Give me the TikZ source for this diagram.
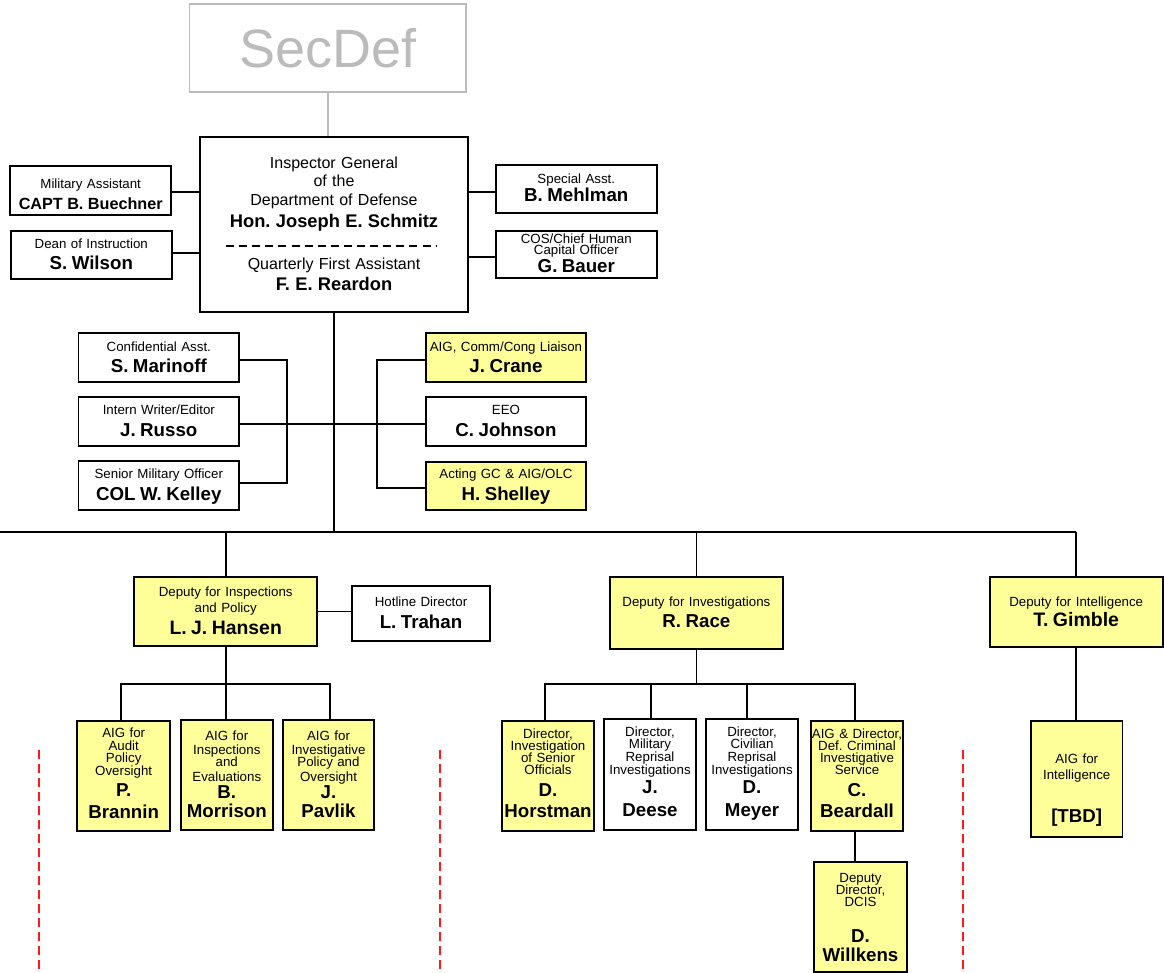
\documentclass[tikz,border=0pt]{standalone}
\usepackage{fontspec}
\setmainfont{Liberation Sans}
\usetikzlibrary{calc}
\parindent=0pt
\definecolor{yfill}{HTML}{FFFF99}
\definecolor{sgray}{HTML}{BBBBBB}
\definecolor{dred}{HTML}{FF1A1A}
\newcommand{\ts}[1]{\rule{0pt}{#1pt}}
\newcommand{\bs}[1]{\rule[-#1pt]{0pt}{#1pt}}
\newcommand{\nm}{\fontsize{18.7}{0}\selectfont\bfseries}
\newcommand{\smf}{\fontsize{13.3}{0}\selectfont}
\newcommand{\igf}{\fontsize{16}{0}\selectfont}
\tikzset{
  box/.style={draw=black, line width=1.8pt, inner sep=0pt, align=center, fill=white, font=\smf},
  yel/.style={fill=yfill},
  conn/.style={line width=1.8pt, draw=black},
  reddash/.style={draw=dred, line width=2pt, dash pattern=on 9pt off 5pt},
}
\begin{document}
\frenchspacing
\lineskiplimit=-100pt
\normallineskiplimit=-100pt
\begin{tikzpicture}[x=1pt,y=-1pt]
\useasboundingbox (0,0) rectangle (1164,973);

% SecDef
\node[draw=sgray, line width=1.8pt, minimum width=276.7, minimum height=87.4, inner sep=0pt,
      text=sgray, font=\fontsize{54}{60}\selectfont] (secdef) at (327.8,48) {SecDef};

% Inspector General
\node[box, minimum width=267.5, minimum height=175, text width=262, font=\igf] (ig) at (334,224.2)
 {\ts{12}Inspector General\\[18.4pt]of the\\[19pt]Department of Defense\\[21.6pt]
  {\bfseries\fontsize{18.3}{0}\selectfont Hon. Joseph E. Schmitz}\\[42pt]
  Quarterly First Assistant\\[21.7pt]{\bfseries\fontsize{18.3}{0}\selectfont F. E. Reardon\bs{1.1}}};
\coordinate (dashL) at ($(ig.center)+(-108,21.5)$);
\coordinate (dashR) at ($(ig.center)+(102,21.5)$);
\draw[line width=2pt, dash pattern=on 8pt off 5.1pt] (dashL) -- (dashR);

\draw[draw=sgray, line width=1.8pt] (secdef.south) -- (secdef.south |- ig.north);

% top side boxes
\node[box, minimum width=160.8, minimum height=49, text width=158] (mil) at (90.7,190.5)
 {\ts{16.6}Military Assistant\\[21pt]{\bfseries\fontsize{16.2}{0}\selectfont CAPT B. Buechner}};
\node[box, minimum width=161, minimum height=48.3, text width=158] (dean) at (91.3,255.2)
 {\ts{12}Dean of Instruction\\[20.3pt]{\nm S. Wilson\bs{4.1}}};
\node[box, minimum width=160.7, minimum height=47.7, text width=158] (spec) at (576.3,188.9)
 {\ts{12}Special Asst.\\[17.7pt]{\nm B. Mehlman\bs{4.1}}};
\node[box, minimum width=160.7, minimum height=47, text width=158] (cos) at (576.3,254.2)
 {\ts{12}COS/Chief Human\\[11pt]Capital Officer\\[18pt]{\nm G. Bauer\bs{4.8}}};

\coordinate (milC) at ($(mil.east)+(0,1.8)$);
\coordinate (deanC) at ($(dean.east)+(0,-1.9)$);
\coordinate (specC) at ($(spec.west)+(0,2.8)$);
\coordinate (cosC) at ($(cos.west)+(0,2.5)$);
\draw[conn] (milC) -- (milC -| ig.west);
\draw[conn] (deanC) -- (deanC -| ig.west);
\draw[conn] (specC) -- (specC -| ig.east);
\draw[conn] (cosC) -- (cosC -| ig.east);

% middle boxes
\node[box, minimum width=160.7, minimum height=49, text width=158] (mar) at (158.8,357.8)
 {\ts{12}Confidential Asst.\\[21pt]{\nm S. Marinoff\bs{3.2}}};
\node[box, minimum width=160.7, minimum height=48.4, text width=158] (rus) at (158.8,421.5)
 {\ts{12}Intern Writer/Editor\\[21.7pt]{\nm J. Russo\bs{4.7}}};
\node[box, minimum width=160.7, minimum height=49, text width=158] (kel) at (158.8,485.5)
 {\ts{12}Senior Military Officer\\[21.7pt]{\nm COL W. Kelley\bs{4.7}}};
\node[box, yel, minimum width=160.7, minimum height=49, text width=158] (crane) at (506,357.8)
 {\ts{12}AIG, Comm/Cong Liaison\\[21pt]{\nm J. Crane\bs{3.2}}};
\node[box, minimum width=160.7, minimum height=49, text width=158] (john) at (506,421.2)
 {\ts{12}EEO\\[21.7pt]{\nm C. Johnson\bs{4.1}}};
\node[box, yel, minimum width=160.7, minimum height=48.3, text width=158] (shel) at (506,485.8)
 {\ts{12}Acting GC \& AIG/OLC\\[21.7pt]{\nm H. Shelley\bs{5.3}}};

\coordinate (marC) at ($(mar.east)+(0,2.2)$);
\coordinate (kelC) at ($(kel.east)+(0,-2.8)$);
\coordinate (craC) at ($(crane.west)+(0,2.2)$);
\coordinate (sheC) at ($(shel.west)+(0,2.2)$);
\coordinate (rusC) at ($(rus.east)+(0,2.5)$);
\coordinate (lbr) at ($(marC)+(47.2,0)$);
\coordinate (rbr) at ($(craC)+(-47.5,0)$);
\draw[conn] (marC) -- (lbr) |- (kelC);
\draw[conn] (craC) -- (rbr) |- (sheC);
\draw[conn] (rusC) -- (rusC -| john.west);

% main bus
\coordinate (busL) at (0,532);
\coordinate (busR) at (1076.2,532);
\draw[conn] (ig.south) -- (ig.south |- busL);
\draw[conn] (busL) -- (busR);

% deputies
\node[box, yel, minimum width=183, minimum height=69, text width=180] (hansen) at (225.7,611.5)
 {\ts{12}Deputy for Inspections\\[15.6pt]and Policy\\[21.7pt]{\bfseries\fontsize{19.4}{0}\selectfont L. J. Hansen\bs{4.3}}};
\node[box, minimum width=138.3, minimum height=54.7, text width=135] (trahan) at (421,613.3)
 {\ts{12}Hotline Director\\[22.3pt]{\nm L. Trahan\bs{3}}};
\node[box, yel, minimum width=173.6, minimum height=71.4, text width=170] (race) at (696.4,613)
 {\ts{12}Deputy for Investigations\\[21.3pt]{\nm R. Race\bs{4.7}}};
\node[box, yel, minimum width=173.2, minimum height=70.6, text width=170] (gimble) at (1076.2,612)
 {\ts{12}Deputy for Intelligence\\[20.7pt]{\bfseries\fontsize{19.5}{0}\selectfont T. Gimble\bs{3.3}}};

\draw[conn] (hansen.north |- busL) -- (hansen.north);
\draw[conn] (race.north |- busL) -- (race.north);
\draw[conn] (busR) -- (gimble.north);
\draw[conn] (hansen.east) -- (hansen.east -| trahan.west);

% inspections AIGs
\node[box, yel, minimum width=92.7, minimum height=110, text width=91] (brannin) at (123.7,776)
 {\ts{12}AIG for\\[12.7pt]Audit\\[12.7pt]Policy\\[12.3pt]Oversight\\[21.7pt]{\nm P.}\\[21.6pt]{\nm Brannin\bs{8.4}}};
\node[box, yel, minimum width=91.7, minimum height=110.3, text width=91] (morrison) at (226.8,775.2)
 {\ts{12}AIG for\\[13.6pt]Inspections\\[12.4pt]and\\[14.3pt]Evaluations\\[17.3pt]{\nm B.}\\[19.4pt]{\nm Morrison\bs{4}}};
\node[box, yel, minimum width=91.7, minimum height=110.3, text width=91] (pavlik) at (328.5,775.2)
 {\ts{12}AIG for\\[13.6pt]Investigative\\[12.4pt]Policy and\\[14.3pt]Oversight\\[17.3pt]{\nm J.}\\[19.4pt]{\nm Pavlik\bs{4}}};

\coordinate (hbus) at ($(hansen.south)+(0,37)$);
\coordinate (branT) at ($(brannin.north)+(-2.7,0)$);
\coordinate (pavT) at ($(pavlik.north)+(1.5,0)$);
\draw[conn] (hansen.south) -- (hansen.south |- morrison.north);
\draw[conn] (branT) |- (hbus) -| (pavT);

% investigations
\node[box, yel, minimum width=92, minimum height=110.3, text width=91] (horst) at (548,776.2)
 {\ts{12}Director,\\[11.7pt]Investigation\\[12.7pt]of Senior\\[12pt]Officials\\[21.3pt]{\nm D.}\\[21.7pt]{\nm Horstman\bs{8.4}}};
\node[box, minimum width=92, minimum height=110.4, text width=91] (deese) at (650,774.5)
 {\ts{12}Director,\\[12pt]Military\\[13pt]Reprisal\\[12.6pt]Investigations\\[19pt]{\nm J.}\\[23.4pt]{\nm Deese\bs{7.6}}};
\node[box, minimum width=92, minimum height=110.4, text width=91] (meyer) at (752,774.5)
 {\ts{12}Director,\\[12pt]Civilian\\[13pt]Reprisal\\[12.6pt]Investigations\\[19pt]{\nm D.}\\[23.4pt]{\nm Meyer\bs{7.6}}};
\node[box, yel, minimum width=92, minimum height=110.3, text width=91] (beard) at (857,776.2)
 {\ts{12}AIG \& Director,\\[11.7pt]Def. Criminal\\[12.7pt]Investigative\\[12pt]Service\\[21.3pt]{\nm C.}\\[21.7pt]{\nm Beardall\bs{8.4}}};
\node[box, yel, minimum width=93, minimum height=109.7, text width=91] (willk) at (860.5,916.8)
 {\ts{12}Deputy\\[11.7pt]Director,\\[12pt]DCIS\\[36.3pt]{\nm D.}\\[19.4pt]{\nm Willkens\bs{1.6}}};

\coordinate (rbus) at ($(race.south)+(0,34)$);
\coordinate (horT) at ($(horst.north)+(-3,0)$);
\coordinate (deeT) at ($(deese.north)+(1,0)$);
\coordinate (meyT) at ($(meyer.north)+(-5,0)$);
\coordinate (beaT) at ($(beard.north)+(-2,0)$);
\coordinate (beaB) at ($(beard.south)+(-2,0)$);
\draw[conn] (race.south) -- (rbus);
\draw[conn] (horT) |- (rbus) -| (beaT);
\draw[conn] (deeT) -- (deeT |- rbus);
\draw[conn] (meyT) -- (meyT |- rbus);
\draw[conn] (beaB) -- (beaB |- willk.north);

% intelligence
\node[box, yel, minimum width=91.7, minimum height=115.7, text width=90] (tbd) at (1076.7,778.8)
 {\ts{32}AIG for\\[15.7pt]Intelligence\\[43.3pt]{\nm [TBD]\bs{4}}};
\draw[conn] (gimble.south) -- (gimble.south |- tbd.north);

% red dashed separators
\coordinate (r1t) at (39,750);   \coordinate (r1b) at (39,973);
\coordinate (r2t) at (440,750);  \coordinate (r2b) at (440,973);
\coordinate (r3t) at (963,750);  \coordinate (r3b) at (963,973);
\draw[reddash] (r1t) -- (r1b);
\draw[reddash] (r2t) -- (r2b);
\draw[reddash] (r3t) -- (r3b);
\end{tikzpicture}
\end{document}
